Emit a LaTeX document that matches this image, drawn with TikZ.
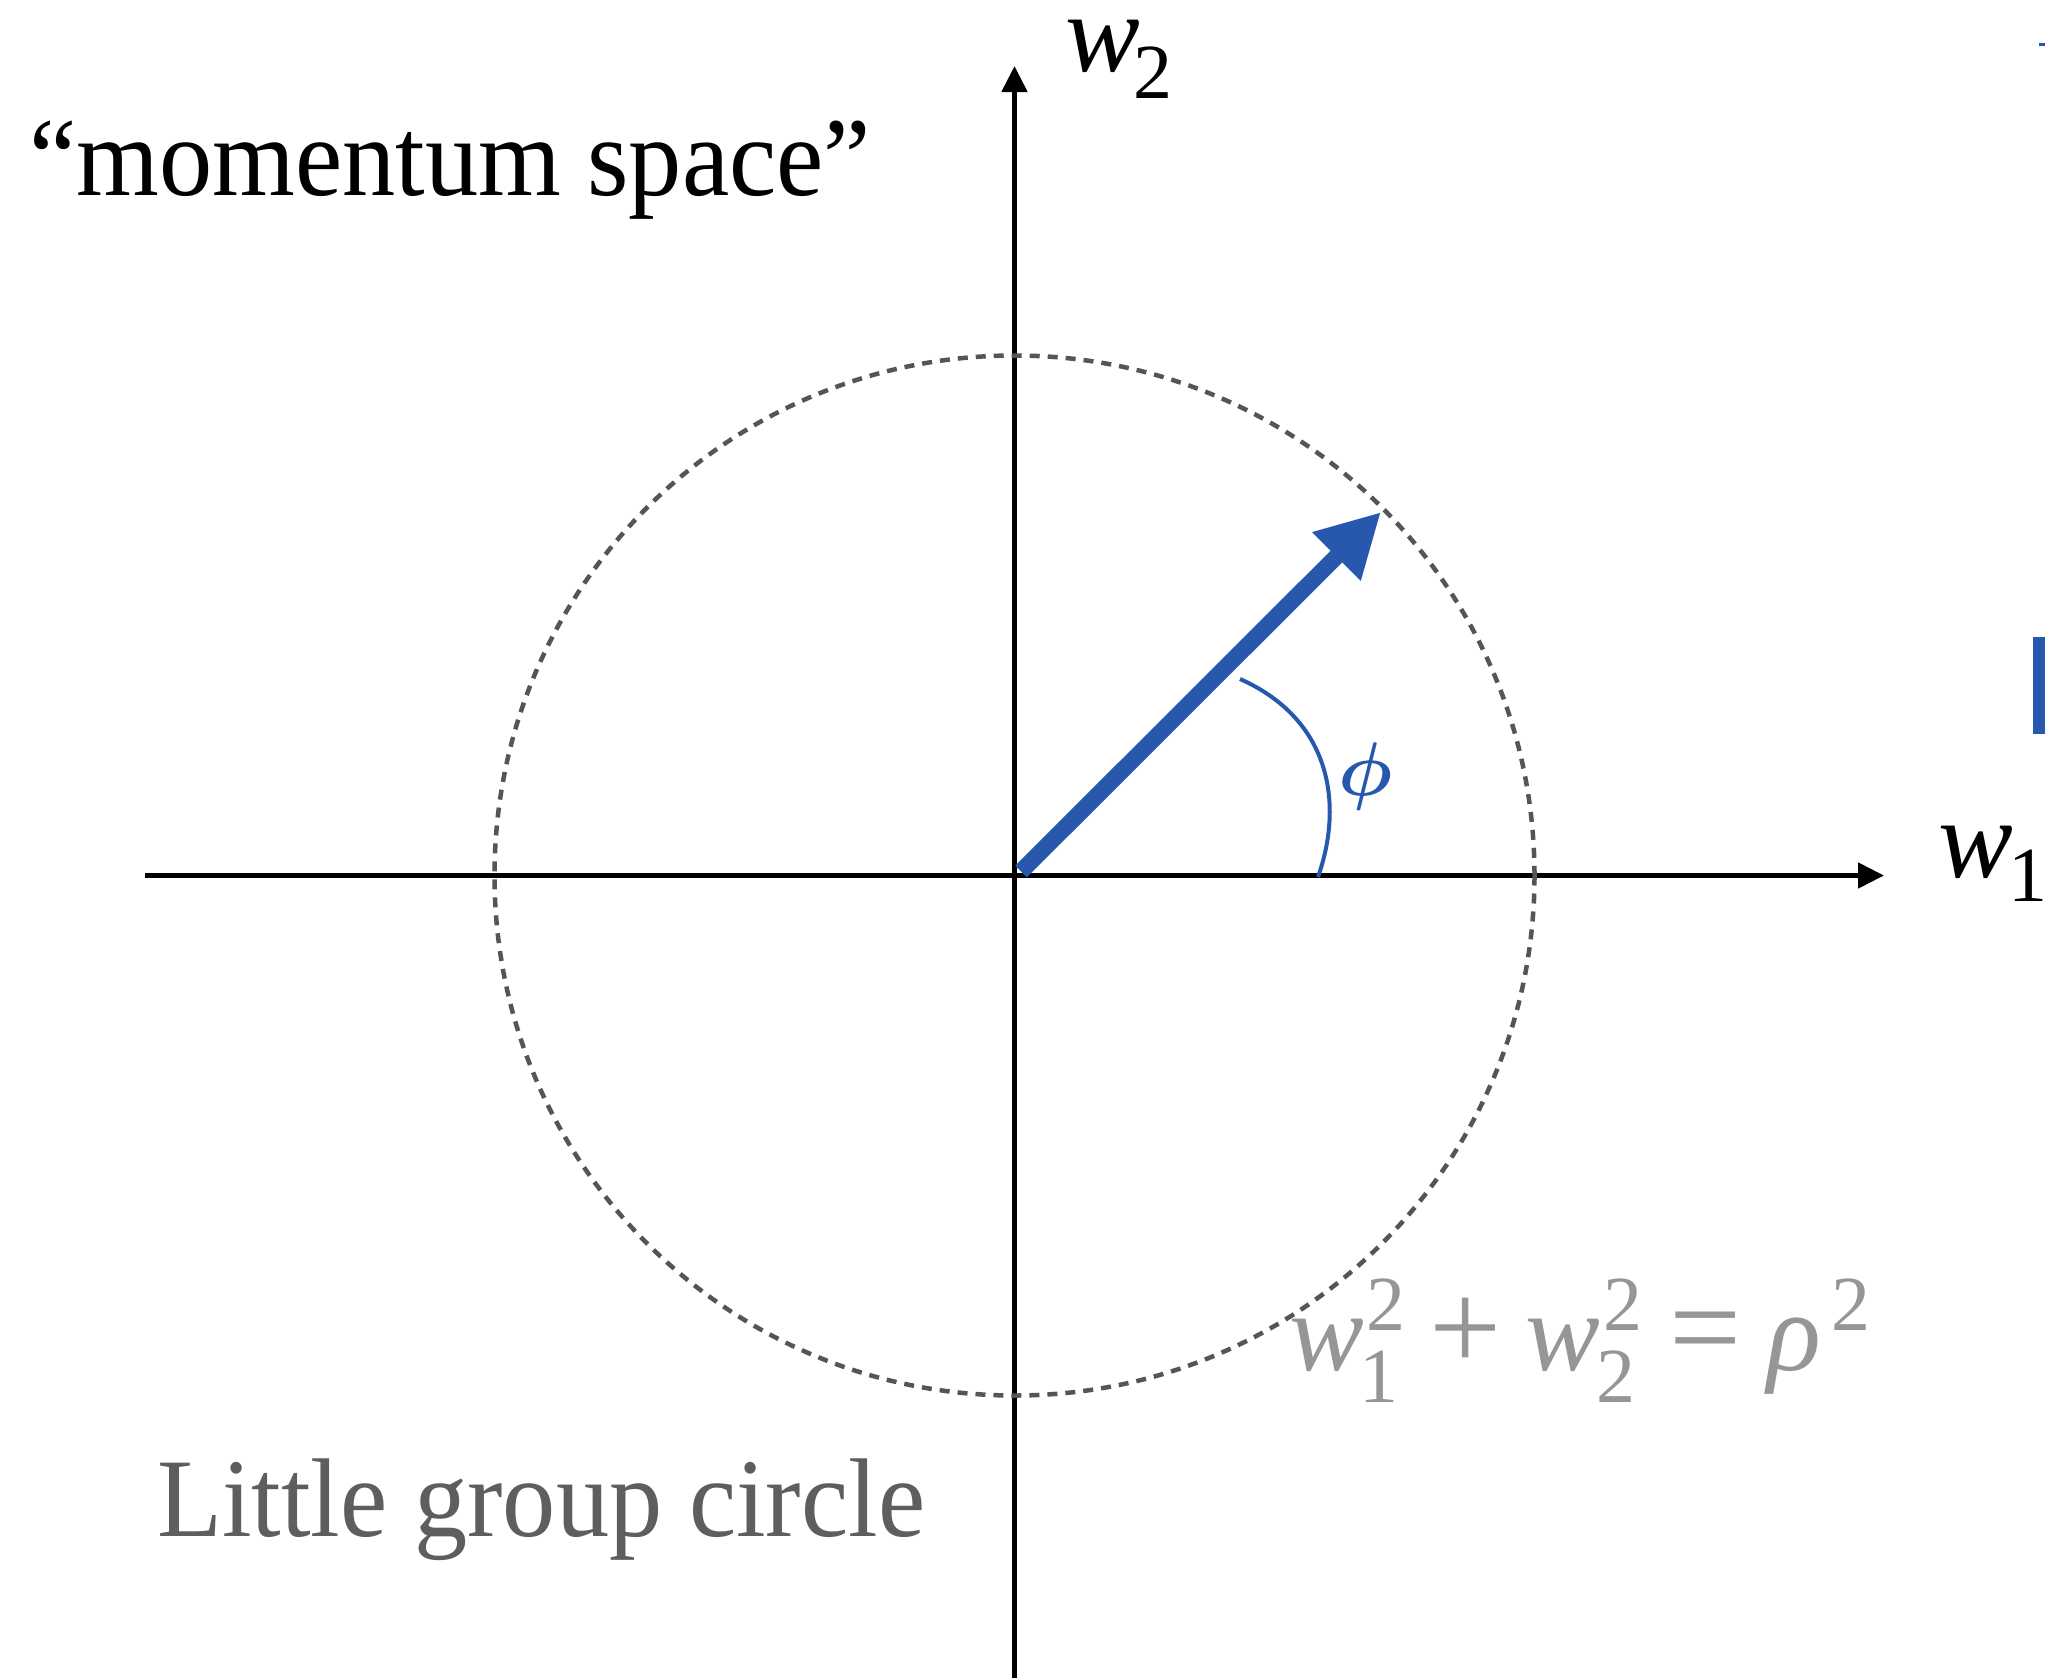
\documentclass[tikz,border=0pt]{standalone}
\usepackage{fontspec}
\setmainfont{Liberation Serif}
\newfontfamily\txtfont{Liberation Serif}[FakeStretch=0.95]
\usetikzlibrary{arrows.meta}
\definecolor{myblue}{RGB}{40,88,173}
\definecolor{circgray}{RGB}{85,85,85}
\definecolor{labgray}{RGB}{94,94,94}
\definecolor{eqgray}{RGB}{150,150,150}
\newcommand\sm{\fontsize{78}{80}\selectfont}
\newcommand\bg{\fontsize{128}{130}\selectfont}
\begin{document}
\begin{tikzpicture}[x=1pt,y=-1pt,
  axis/.style={line width=5pt, -{Triangle[length=26pt,width=25pt]}},
  big/.style={font=\fontsize{112}{130}\selectfont, inner sep=0pt, outer sep=0pt},
  ]
\useasboundingbox[fill=white] (0,0) rectangle (2045,1678);
% axes
\coordinate (O) at (1014.5,875.5);
\coordinate (xl) at (145,875.5);
\coordinate (xr) at (1884,875.5);
\coordinate (yb) at (1014.5,1680);
\coordinate (yt) at (1014.5,66);
\draw[axis] (xl) -- (xr);
\draw[axis] (yb) -- (yt);
% little group circle
\draw[circgray, line width=4.5pt, dash pattern=on 10pt off 8pt] (O) circle[radius=520];
% vector
\coordinate (vs) at (1021,871.5);
\coordinate (vt) at (1381,512);
\draw[myblue, line width=16.5pt, -{Triangle[length=63pt,width=64pt]}] (vs) -- (vt);
% angle
\draw[myblue, line width=4pt] (1318,877) .. controls (1345,800) and (1328,718) .. (1240,679);
\node[inner sep=0pt, text=myblue] (phi) at (1366,776) {\scalebox{7.6}{\boldmath$\phi$}};
% axis labels
\node[big, anchor=base west] (w1) at (1938,877) {\textit{w}\kern-4pt\raisebox{-24pt}{\sm 1}};
\node[big, anchor=base west] (w2) at (1065,72) {\textit{w}\kern-6pt\raisebox{-26pt}{\sm 2}};
% texts
\node[big, anchor=base west] (mom) at (29,195) {\txtfont “momentum space”};
\node[big, anchor=base west, text=labgray] (lgc) at (157,1536) {\txtfont Little group circle};
% equation
\node[big, anchor=base west, text=eqgray] (eq) at (1289,1370) {\textit{w}\makebox[0pt][l]{\kern3pt\raisebox{40pt}{\sm 2}}\makebox[42pt][l]{\kern-4pt\raisebox{-32pt}{\sm 1}}\hspace{24pt}{\bg +}\hspace{24pt}\textit{w}\makebox[0pt][l]{\kern3pt\raisebox{40pt}{\sm 2}}\makebox[42pt][l]{\kern-4pt\raisebox{-32pt}{\sm 2}}\hspace{27pt}{\bg =}\hspace{26pt}\textit{ρ}\hspace{10pt}\raisebox{40pt}{\sm 2}};
% cropped fragments at right edge
\fill[myblue] (2033,637) rectangle (2045,734);
\fill[myblue] (2039,43) rectangle (2045,46.5);
\end{tikzpicture}
\end{document}
